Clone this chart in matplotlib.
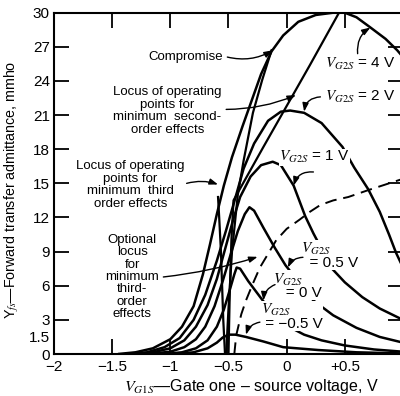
import matplotlib
matplotlib.use("Agg")
import matplotlib.pyplot as plt

plt.rcParams["font.family"] = ["Liberation Sans", "DejaVu Sans"]
plt.rcParams["mathtext.fontset"] = "stix"

# Forward transfer admittance (mmho) versus gate-one voltage (V), one curve per gate-two bias
vg2s_4_x = [-1.45, -1.3, -1.15, -1.0, -0.9, -0.8, -0.72, -0.66, -0.6, -0.54, -0.47, -0.38, -0.3, -0.22,
            -0.13, -0.03, 0.1, 0.25, 0.4, 0.5, 0.6, 0.72, 0.85, 0.95, 1.0]
vg2s_4_y = [0.0, 0.15, 0.5, 1.3, 2.4, 4.2, 7.0, 9.6, 12.3, 14.8, 17.3, 20.0, 22.3, 24.6,
            26.6, 28.0, 29.2, 29.8, 30.0, 30.0, 29.6, 28.7, 27.7, 26.7, 26.1]

vg2s_2_x = [-1.35, -1.2, -1.05, -0.92, -0.8, -0.7, -0.6, -0.52, -0.45, -0.37, -0.28, -0.16, -0.05,
            0.03, 0.15, 0.3, 0.48, 0.58, 0.7, 0.8, 0.88, 0.94, 1.0]
vg2s_2_y = [0.0, 0.15, 0.6, 1.4, 3.0, 5.2, 8.2, 10.9, 13.4, 16.3, 18.5, 20.5, 21.3,
            21.4, 21.2, 20.3, 18.2, 16.4, 14.5, 12.5, 10.5, 8.9, 7.6]

vg2s_1_x = [-1.3, -1.15, -1.0, -0.88, -0.78, -0.68, -0.6, -0.53, -0.46, -0.4, -0.31, -0.22, -0.12,
            -0.05, 0.06, 0.16, 0.23, 0.39, 0.5, 0.65, 0.8, 1.0]
vg2s_1_y = [0.0, 0.15, 0.5, 1.2, 2.4, 4.3, 6.6, 9.2, 11.8, 13.8, 15.6, 16.6, 16.9,
            16.6, 14.8, 12.1, 10.6, 7.5, 6.3, 5.0, 4.0, 3.0]

vg2s_05_x = [-1.2, -1.0, -0.88, -0.78, -0.7, -0.62, -0.55, -0.48, -0.42, -0.36, -0.32, -0.28, -0.2,
             -0.1, -0.01, 0.23, 0.4, 0.6, 0.8, 1.0]
vg2s_05_y = [0.0, 0.2, 0.6, 1.3, 2.4, 4.2, 6.4, 8.8, 10.8, 12.3, 12.9, 12.6, 11.1,
             9.3, 7.8, 4.7, 3.4, 2.3, 1.5, 1.0]

vg2s_0_x = [-1.05, -0.9, -0.78, -0.68, -0.6, -0.54, -0.49, -0.45, -0.43, -0.4, -0.33, -0.22, -0.1,
            0.0, 0.15, 0.3, 0.5, 0.75, 1.0]
vg2s_0_y = [0.0, 0.15, 0.5, 1.2, 2.4, 3.9, 5.6, 7.0, 7.6, 7.5, 6.4, 4.9, 3.3,
            2.5, 1.7, 1.2, 0.75, 0.4, 0.2]

vg2s_m05_x = [-0.95, -0.8, -0.68, -0.6, -0.55, -0.5, -0.44, -0.35, -0.2, -0.03, 0.27, 0.6, 1.0]
vg2s_m05_y = [0.0, 0.15, 0.5, 1.0, 1.45, 1.7, 1.7, 1.5, 1.1, 0.6, 0.35, 0.15, 0.05]

# Loci of operating points
third_order_x = [-0.53, -0.545, -0.555, -0.565, -0.58, -0.59]
third_order_y = [0.0, 3.0, 6.0, 9.0, 12.0, 13.8]

compromise_x = [-0.52, -0.5, -0.47, -0.42, -0.37, -0.29, -0.21, -0.13]
compromise_y = [0.0, 4.0, 9.0, 14.0, 17.0, 21.2, 24.1, 26.7]

second_order_x = [-0.5, -0.49, -0.475, -0.457, -0.2, 0.0, 0.2, 0.45]
second_order_y = [0.0, 5.0, 10.0, 13.5, 18.2, 21.8, 25.4, 30.0]

optional_x = [-0.45, -0.44, -0.43, -0.39, -0.35, -0.29, -0.23, -0.16, -0.09, 0.0, 0.11, 0.2, 0.29,
              0.4, 0.53, 0.7, 0.85, 1.0]
optional_y = [0.0, 1.0, 1.8, 3.5, 4.7, 6.2, 7.6, 8.8, 10.0, 11.0, 11.8, 12.5, 13.1,
              13.5, 13.8, 14.4, 14.9, 15.4]

x_ticks = [-2, -1.5, -1, -0.5, 0, 0.5]
x_tick_labels = ["\u22122", "\u22121.5", "\u22121", "\u22120.5", "0", "+0.5"]
y_ticks = [0, 1.5, 3, 6, 9, 12, 15, 18, 21, 24, 27, 30]
y_tick_labels = ["0", "1.5", "3", "6", "9", "12", "15", "18", "21", "24", "27", "30"]

fig = plt.figure(figsize=(4.0, 3.96), dpi=100)
ax = fig.add_axes([54 / 400, 42 / 396, 349 / 400, 341.3 / 396])
ax.set_xlim(-2, 1.0)
ax.set_ylim(0, 30)

lw_curve = 1.8
for xs, ys in [(vg2s_4_x, vg2s_4_y), (vg2s_2_x, vg2s_2_y), (vg2s_1_x, vg2s_1_y),
               (vg2s_05_x, vg2s_05_y), (vg2s_0_x, vg2s_0_y), (vg2s_m05_x, vg2s_m05_y)]:
    ax.plot(xs, ys, color="black", lw=lw_curve, solid_capstyle="butt", zorder=2)

for xs, ys in [(third_order_x, third_order_y), (compromise_x, compromise_y),
               (second_order_x, second_order_y)]:
    ax.plot(xs, ys, color="black", lw=1.6, zorder=2)
ax.plot(optional_x, optional_y, color="black", lw=1.4, ls=(0, (6, 3.5)), zorder=2)

for s in ax.spines.values():
    s.set_linewidth(1.5)

ax.set_xticks(x_ticks)
ax.set_xticklabels(x_tick_labels, fontsize=11)
ax.set_yticks(y_ticks)
ax.set_yticklabels(y_tick_labels, fontsize=11)
ax.tick_params(axis="both", direction="in", length=11, width=1.3, top=True, right=True)
ax.tick_params(axis="x", pad=4.5)
ax.tick_params(axis="y", pad=3)
ax.yaxis.get_major_ticks()[1].tick1line.set_visible(False)
ax.yaxis.get_major_ticks()[1].tick2line.set_visible(False)

fig.text(251 / 400, 1 - 386 / 396, r"$V_{G1S}$" + "\u2014Gate one \u2013 source voltage, V",
         ha="center", va="center", fontsize=11.5)
fig.text(12 / 400, 1 - 190 / 396, r"Y$_{fs}$" + "\u2014Forward transfer admittance, mmho",
         ha="center", va="center", rotation=90, fontsize=10.3)

txt = dict(ha="center", va="center", fontsize=9.5, linespacing=1.05)
ax.text(-0.87, 26.1, "Compromise", **txt)
ax.text(-1.026, 21.35, "Locus of operating\npoints for\nminimum  second-\norder effects", **txt)
ax.text(-1.345, 14.85, "Locus of operating\npoints for\nminimum  third\norder effects", **txt)
ax.text(-1.328, 6.77, "Optional\nlocus\nfor\nminimum\nthird-\norder\neffects", **txt)

box = dict(facecolor="white", edgecolor="none", pad=0.3)
lab = dict(ha="center", va="center", fontsize=11, bbox=box, zorder=4)
ax.text(0.635, 25.5, r"$V_{G2S}$ = 4 V", **lab)
ax.text(0.635, 22.58, r"$V_{G2S}$ = 2 V", **lab)
ax.text(0.24, 17.3, r"$V_{G2S}$ = 1 V", **lab)

lab2 = dict(ha="left", va="center", fontsize=11, multialignment="left", linespacing=0.85,
            bbox=box, zorder=4)
ax.text(0.12, 8.65, r"$V_{G2S}$" + "\n  = 0.5 V", **lab2)
ax.text(-0.12, 6.0, r"$V_{G2S}$" + "\n   = 0 V", **lab2)
ax.text(-0.224, 3.3, r"$V_{G2S}$" + "\n = \u22120.5 V", **lab2)


def arrow(start, end, rad):
    ax.annotate("", xy=end, xytext=start,
                arrowprops=dict(arrowstyle="-|>,head_length=0.5,head_width=0.18", lw=1.0,
                                color="black", shrinkA=0, shrinkB=0,
                                connectionstyle=f"arc3,rad={rad}"), zorder=5)


arrow((-0.51, 26.1), (-0.12, 26.7), 0.2)
arrow((-0.52, 21.5), (0.08, 22.76), 0.1)
arrow((-0.86, 15.0), (-0.59, 14.9), -0.15)
arrow((-1.06, 6.77), (-0.25, 8.54), 0.05)
arrow((0.61, 26.4), (0.72, 28.7), -0.3)
arrow((0.29, 22.6), (0.15, 21.3), 0.4)
arrow((0.23, 16.0), (0.06, 14.8), 0.4)
arrow((0.14, 8.5), (0.01, 7.6), 0.3)
arrow((-0.1, 6.1), (-0.2, 4.7), 0.3)
arrow((-0.23, 2.8), (-0.35, 1.7), 0.3)

fig.savefig("out.png", dpi=100)
